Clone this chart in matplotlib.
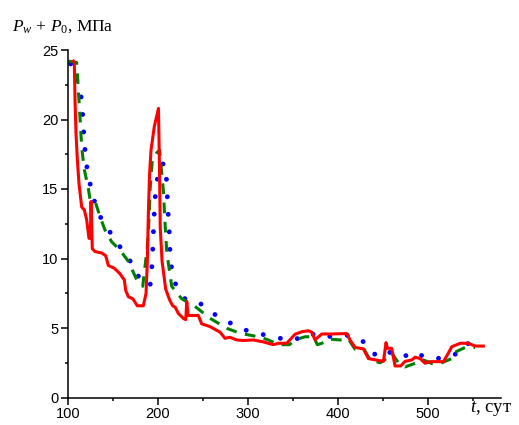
import matplotlib
matplotlib.use("Agg")
import matplotlib.pyplot as plt
from matplotlib.ticker import MultipleLocator

plt.rcParams['mathtext.fontset'] = 'custom'
plt.rcParams['mathtext.rm'] = 'Liberation Serif'
plt.rcParams['mathtext.it'] = 'Liberation Serif:italic'

# Experimental (red solid)
t_exp = [106, 107, 107.8, 108.9, 110.4, 112.2, 115.2, 118.1, 120.7, 123.3, 124.8, 125.6, 127,
         130, 137.4, 141.9, 144.8, 151.4, 157.8, 162.6, 164.1, 167, 172, 177, 183.7, 186.7,
         188.1, 189.3, 190.5, 192.2, 195.9, 200.5, 201.5, 202.5, 204.5, 208.5, 213, 216.3,
         219, 222.6, 228, 230.8, 231.9, 233.5, 244.8, 248.5, 257.8, 268.9, 274.4, 280, 287.4,
         294.8, 305.9, 317, 328, 333.7, 343, 352.2, 359.7, 367, 370.8, 374.4, 381.9, 393,
         409.7, 413.3, 418.9, 428.1, 433.7, 450.4, 453.3, 454.8, 459.6, 463.3, 469.6, 474.4,
         481.9, 485.6, 491.1, 496.7, 502.2, 517, 521.4, 526.3, 535.6, 544.8, 552.2, 561.4]
p_exp = [24.2, 24.1, 21.4, 19.0, 17.1, 15.4, 13.7, 13.5, 12.8, 11.45, 11.45, 14.1, 10.7,
         10.5, 10.4, 10.2, 9.5, 9.3, 8.9, 8.45, 7.7, 7.25, 7.1, 6.6, 6.6, 7.5,
         9.7, 13.3, 15.9, 17.8, 19.5, 20.8, 17.0, 12.2, 9.8, 7.8, 7.0, 6.6,
         6.5, 6.05, 5.7, 5.6, 6.9, 5.9, 5.9, 5.3, 5.1, 4.7, 4.26, 4.33, 4.14,
         4.1, 4.14, 4.0, 3.8, 3.9, 3.9, 4.55, 4.73, 4.8, 4.7, 4.14, 4.57, 4.57,
         4.6, 4.14, 3.6, 3.5, 2.8, 2.6, 3.95, 3.54, 3.54, 2.27, 2.27, 2.6,
         2.7, 2.9, 2.8, 2.46, 2.58, 2.58, 3.06, 3.65, 3.9, 3.9, 3.7, 3.7]

# Model 1 (green dashed)
t_m1 = [100.4, 109.6, 111.5, 113.3, 115.2, 118.1, 122.6, 124.8, 130.7, 135.6, 141.1, 148.5,
        157.8, 167, 176.5, 183, 188.1, 190.4, 191.1, 193.7, 198.5, 201.8, 205.9, 207.8,
        209.6, 211.5, 215.2, 226.3, 239.2, 257.8, 276.3, 291.1, 311.5, 322.6, 333.7, 345.9,
        352.2, 363.3, 372.6, 377, 381.9, 390.4, 402.2, 411.5, 418.9, 428.9, 435.6, 446.7,
        455.9, 459.6, 467, 474.4, 487.4, 494.8, 505.9, 515.2, 526.3, 528.1, 541.1, 552.2]
p_m1 = [24.2, 24.1, 22.1, 20.2, 18.0, 16.4, 15.05, 14.1, 14.0, 13.0, 12.05, 11.2,
        10.6, 9.8, 8.45, 8.0, 10.85, 13.3, 14.9, 17.1, 17.6, 17.8, 14.9, 12.5,
        10.6, 9.65, 8.0, 7.1, 6.65, 5.7, 4.98, 4.62, 4.37, 4.14, 3.8, 3.8,
        4.14, 4.37, 4.37, 3.8, 3.9, 4.2, 4.14, 4.2, 3.47, 3.47, 2.7, 2.5,
        2.9, 3.2, 2.5, 2.2, 2.5, 2.7, 2.4, 2.5, 2.8, 3.2, 3.6, 3.6]

# Model 2 (blue dotted)
t_m2 = [103, 105.9, 113.3, 115.2, 117, 117.8, 119.7, 121.9, 126.3, 131.1, 137.4, 146.7,
        155.9, 167.8, 175.2, 191.1, 193, 194, 194.8, 195.6, 196.7, 198.5, 203.5, 208,
        209.6, 210.4, 211.5, 212.6, 213.3, 215.2, 220, 230, 243.7, 257, 276.1, 294.1,
        312, 331.9, 350.4, 368, 382.2, 399.2, 417, 434, 443, 460, 469.6, 480.7,
        495.2, 511.5, 528.9, 540.4, 557.8]
p_m2 = [24.0, 23.3, 22.4, 21.2, 19.8, 18.5, 17.3, 16.1, 14.9, 13.7, 12.8, 11.9,
        11.0, 10.0, 8.9, 8.0, 9.2, 10.5, 11.8, 13.0, 14.3, 15.5, 16.8, 16.8,
        15.5, 14.3, 13.0, 11.8, 10.45, 9.2, 8.05, 7.1, 6.95, 6.2, 5.5, 4.9,
        4.6, 4.3, 4.1, 4.66, 4.28, 4.5, 4.45, 3.78, 2.9, 3.3, 3.3, 2.75,
        3.08, 2.82, 3.02, 3.87, 3.9]

x_ticks = [100, 200, 300, 400, 500]
y_ticks = [0, 5, 10, 15, 20, 25]

fig = plt.figure(figsize=(5.19, 4.25), dpi=100)
ax = fig.add_axes([68/519, 1-397.5/425, (501-68)/519, (397.5-50)/425])

ax.plot(t_m2, p_m2, color='#0000ff', lw=3.5, linestyle=(0, (0.01, 3.6)),
        dash_capstyle='round', solid_capstyle='round')
ax.plot(t_m1, p_m1, color='#008000', lw=2.2, linestyle=(0, (3.5, 2.8)))
ax.plot(t_exp, p_exp, color='#ff0000', lw=2.2)

ax.set_xlim(100, 581)
ax.set_ylim(0, 25)
ax.set_xticks(x_ticks)
ax.set_yticks(y_ticks)
ax.xaxis.set_minor_locator(MultipleLocator(50))
ax.yaxis.set_minor_locator(MultipleLocator(2.5))
for s in ['top', 'right']:
    ax.spines[s].set_visible(False)
for s in ['left', 'bottom']:
    ax.spines[s].set_linewidth(1.1)
ax.tick_params(which='major', direction='out', length=5, width=1.1, labelsize=10.5, pad=2)
ax.tick_params(which='minor', direction='out', length=2.5, width=1.1)
for lab in ax.get_xticklabels() + ax.get_yticklabels():
    lab.set_fontfamily('Liberation Sans')

fig.text(12/519, 1-27/425, r'$P_w\,+\,P_0$, МПа', family='Liberation Serif',
         fontsize=12.5, ha='left', va='center')
fig.text(470/519, 1-408/425, r'$t$, сут', family='Liberation Serif',
         fontsize=13.5, ha='left', va='center')

fig.savefig('out.png', dpi=100)
